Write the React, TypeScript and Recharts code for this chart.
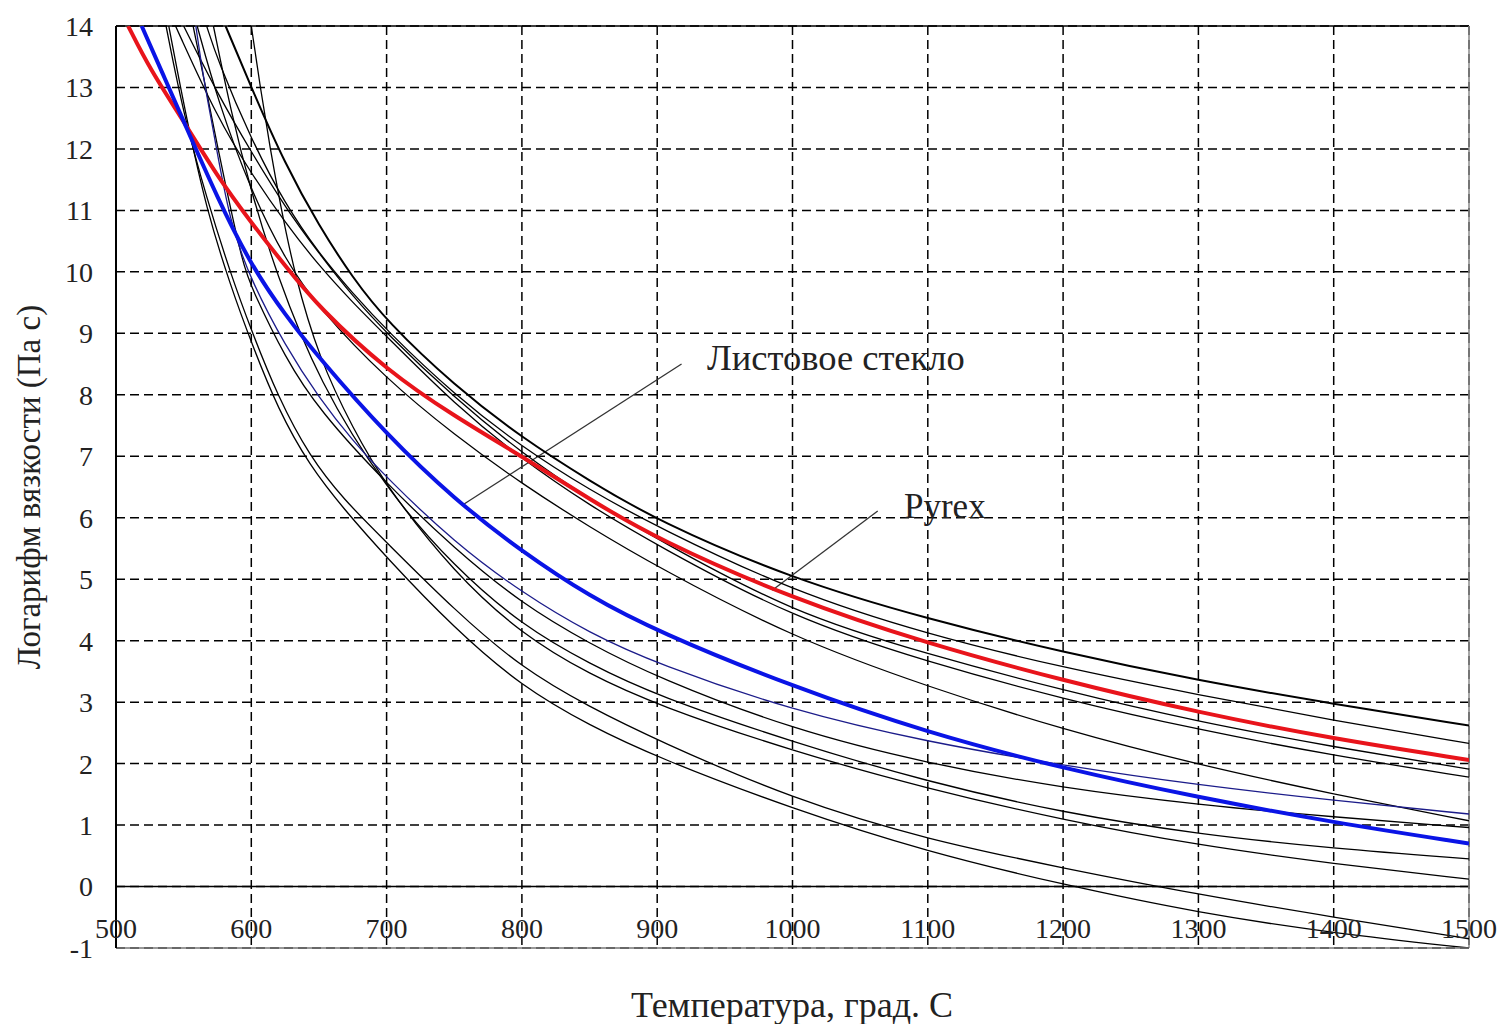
import React from 'react';
import { LineChart, Line, XAxis, YAxis, CartesianGrid, ReferenceLine } from 'recharts';

const temperatureTicks = [500, 600, 700, 800, 900, 1000, 1100, 1200, 1300, 1400, 1500];
const viscosityTicks = [-1, 0, 1, 2, 3, 4, 5, 6, 7, 8, 9, 10, 11, 12, 13, 14];

// [temperature, log viscosity]
const pyrex = [[509, 14], [525, 13.3], [550, 12.45], [575, 11.55], [600, 10.8], [625, 10.1], [650, 9.42], [700, 8.4], [750, 7.65], [800, 7.0], [850, 6.3], [900, 5.65], [1000, 4.68], [1100, 3.95], [1200, 3.35], [1300, 2.83], [1400, 2.4], [1500, 2.06]];
const sheetGlass = [[519, 14], [535, 13.2], [550, 12.45], [575, 11.2], [600, 10.1], [625, 9.3], [650, 8.6], [700, 7.35], [750, 6.3], [800, 5.45], [850, 4.72], [900, 4.15], [1000, 3.25], [1100, 2.5], [1200, 1.92], [1300, 1.45], [1400, 1.04], [1500, 0.7]];
const navyGlass = [[559, 14], [565, 13.1], [572, 12.3], [584, 10.8], [600, 9.85], [625, 8.8], [650, 7.95], [675, 7.25], [700, 6.65], [750, 5.6], [800, 4.78], [850, 4.12], [900, 3.62], [1000, 2.86], [1100, 2.35], [1200, 1.97], [1300, 1.65], [1400, 1.4], [1500, 1.18]];

const glassA = [[581, 14], [600, 13.0], [625, 11.75], [650, 10.75], [675, 9.9], [700, 9.2], [750, 8.15], [800, 7.3], [850, 6.6], [900, 5.95], [1000, 5.0], [1100, 4.35], [1200, 3.81], [1300, 3.35], [1400, 2.97], [1500, 2.62]];
const glassB = [[567, 14], [575, 13.45], [600, 12.15], [625, 11.1], [650, 10.3], [675, 9.65], [700, 9.05], [750, 8.0], [800, 7.15], [850, 6.45], [900, 5.85], [1000, 4.8], [1100, 4.1], [1200, 3.56], [1300, 3.12], [1400, 2.7], [1500, 2.33]];
const glassC = [[550, 14], [575, 12.9], [600, 11.95], [625, 11.05], [650, 10.3], [675, 9.6], [700, 9.0], [750, 7.95], [800, 7.05], [850, 6.3], [900, 5.65], [1000, 4.45], [1100, 3.78], [1200, 3.19], [1300, 2.68], [1400, 2.27], [1500, 1.91]];
const glassD = [[544, 14], [575, 12.5], [600, 11.6], [625, 10.8], [650, 10.1], [675, 9.5], [700, 8.95], [750, 7.85], [800, 6.95], [850, 6.2], [900, 5.55], [1000, 4.37], [1100, 3.65], [1200, 3.05], [1300, 2.55], [1400, 2.13], [1500, 1.78]];
const glassE = [[560, 14], [575, 12.8], [600, 11.3], [625, 10.2], [650, 9.4], [700, 8.25], [750, 7.35], [800, 6.55], [850, 5.85], [900, 5.2], [1000, 4.05], [1100, 3.25], [1200, 2.55], [1300, 1.98], [1400, 1.5], [1500, 1.07]];
const glassF = [[557, 14], [570, 12.6], [580, 11.5], [594, 10.1], [600, 9.75], [625, 8.6], [650, 7.75], [700, 6.55], [750, 5.5], [800, 4.6], [850, 3.95], [900, 3.4], [1000, 2.55], [1100, 2.0], [1200, 1.6], [1300, 1.33], [1400, 1.13], [1500, 0.96]];
const glassG = [[572, 14], [585, 12.6], [600, 11.3], [618, 10.0], [650, 8.2], [700, 6.45], [750, 5.2], [800, 4.25], [850, 3.62], [900, 3.1], [1000, 2.35], [1100, 1.7], [1200, 1.2], [1300, 0.85], [1400, 0.62], [1500, 0.45]];
const glassH = [[600, 14], [607, 12.95], [614, 12.0], [621, 11.15], [632, 9.95], [650, 8.6], [675, 7.45], [700, 6.5], [750, 5.1], [800, 4.1], [850, 3.45], [900, 2.95], [1000, 2.2], [1100, 1.59], [1200, 1.08], [1300, 0.67], [1400, 0.37], [1500, 0.12]];
const glassI = [[537, 14], [550, 12.55], [567, 11.2], [585, 9.95], [600, 9.05], [620, 7.95], [643, 7.0], [668, 6.3], [700, 5.6], [750, 4.5], [800, 3.55], [850, 2.92], [900, 2.38], [1000, 1.42], [1100, 0.76], [1200, 0.3], [1300, -0.13], [1400, -0.5], [1500, -0.85]];
const glassJ = [[539, 14], [552, 12.5], [567, 11.0], [585, 9.75], [600, 8.85], [620, 7.75], [643, 6.85], [668, 6.15], [700, 5.35], [750, 4.2], [800, 3.25], [850, 2.62], [900, 2.1], [1000, 1.26], [1100, 0.56], [1200, 0.03], [1300, -0.43], [1400, -0.76], [1500, -1.0]];

const blackCurves = [glassB, glassC, glassD, glassE, glassF, glassG, glassH, glassI, glassJ];

const sheetPointer = [[757, 6.22], [918, 8.5]];
const pyrexPointer = [[985, 4.82], [1063, 6.11]];

const toPoints = (pts: number[][]) => pts.map(([t, v]) => ({ t, v }));
const toSegment = (pts: number[][]) => pts.map(([x, y]) => ({ x, y }));

const serif = '"Liberation Serif", "Times New Roman", serif';

const XTick = (props: any) => {
  const { x, y, payload } = props;
  return (
    <text x={x} y={y - 10} textAnchor="middle" fontSize={28} fontFamily={serif} fill="#222">
      {payload.value}
    </text>
  );
};

export default function App() {
  return (
    <div style={{ position: 'absolute', left: 0, top: 0, width: 1500, height: 1020, background: '#fff', fontFamily: serif }}>
      <LineChart width={1500} height={1020} margin={{ top: 26, right: 31, bottom: 0, left: 0 }}>
        <CartesianGrid stroke="#000" strokeWidth={1.5} strokeDasharray="9 5" />
        <XAxis
          type="number"
          dataKey="t"
          domain={[500, 1500]}
          ticks={temperatureTicks}
          interval={0}
          allowDataOverflow
          height={72}
          tickSize={0}
          tickMargin={0}
          tickLine={false}
          axisLine={{ stroke: '#777', strokeWidth: 1.5 }}
          tick={XTick}
        />
        <YAxis
          type="number"
          domain={[-1, 14]}
          ticks={viscosityTicks}
          interval={0}
          allowDataOverflow
          width={116}
          tickSize={0}
          tickMargin={23}
          tickLine={false}
          axisLine={{ stroke: '#000', strokeWidth: 2 }}
          tick={{ fontSize: 28, fontFamily: serif, fill: '#222' }}
        />
        <ReferenceLine y={0} stroke="#000" strokeWidth={1.5} />
        <ReferenceLine y={14} stroke="#000" strokeWidth={1.5} />
        <ReferenceLine x={1500} stroke="#888" strokeWidth={1.5} />
        <ReferenceLine segment={toSegment(sheetPointer)} stroke="#333" strokeWidth={1.3} />
        <ReferenceLine segment={toSegment(pyrexPointer)} stroke="#333" strokeWidth={1.3} />
        <Line data={toPoints(glassA)} dataKey="v" type="basis" stroke="#000" strokeWidth={2} dot={false} isAnimationActive={false} />
        {blackCurves.map((c, i) => (
          <Line key={i} data={toPoints(c)} dataKey="v" type="basis" stroke="#000" strokeWidth={1.3} dot={false} isAnimationActive={false} />
        ))}
        <Line data={toPoints(navyGlass)} dataKey="v" type="basis" stroke="#1c1c8a" strokeWidth={1.3} dot={false} isAnimationActive={false} />
        <Line data={toPoints(pyrex)} dataKey="v" type="basis" stroke="#e8141b" strokeWidth={4} dot={false} isAnimationActive={false} />
        <Line data={toPoints(sheetGlass)} dataKey="v" type="basis" stroke="#0a14e6" strokeWidth={4} dot={false} isAnimationActive={false} />
      </LineChart>
      <div style={{ position: 'absolute', left: 707, top: 340, fontSize: 36.5, lineHeight: 1, color: '#222', whiteSpace: 'nowrap' }}>
        Листовое стекло
      </div>
      <div style={{ position: 'absolute', left: 904, top: 489, fontSize: 35, lineHeight: 1, color: '#222', whiteSpace: 'nowrap' }}>
        Pyrex
      </div>
      <div style={{ position: 'absolute', left: 792, top: 1005, transform: 'translate(-50%, -50%)', fontSize: 36, lineHeight: 1, color: '#222', whiteSpace: 'nowrap' }}>
        Температура, град. С
      </div>
      <div style={{ position: 'absolute', left: 29, top: 487, transform: 'translate(-50%, -50%) rotate(-90deg)', fontSize: 33, lineHeight: 1, color: '#222', whiteSpace: 'nowrap' }}>
        Логарифм вязкости (Па с)
      </div>
    </div>
  );
}
